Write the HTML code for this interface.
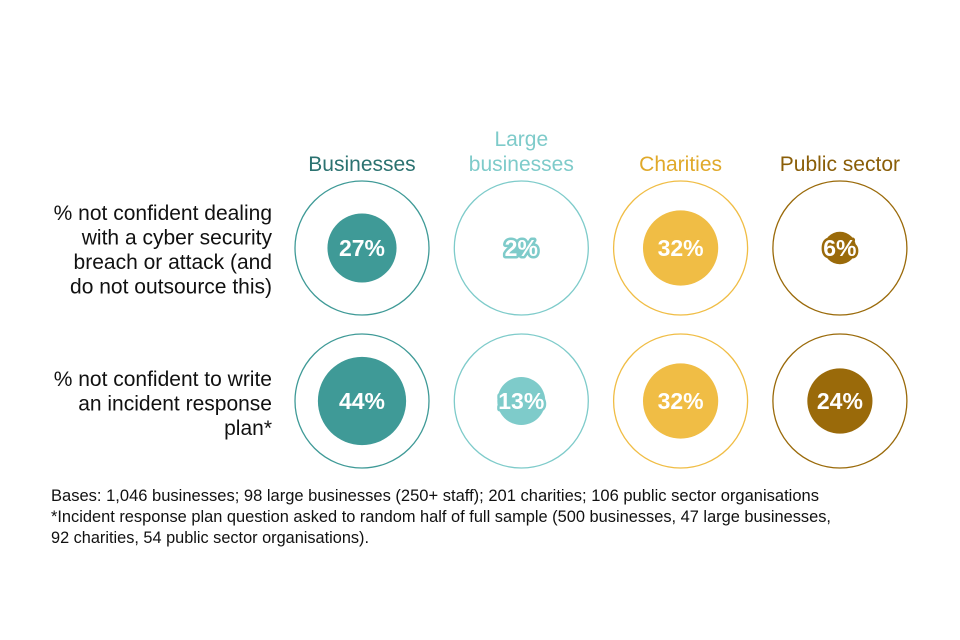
<!DOCTYPE html>
<html><head><meta charset="utf-8"><style>
body{margin:0;background:#fff;width:960px;height:640px;overflow:hidden;font-family:"Liberation Sans",sans-serif}
svg{display:block}
</style></head><body>
<svg width="960" height="640" id="chart">
<g font-size="21" fill="#111" text-anchor="end" font-family="Liberation Sans, sans-serif">
<text x="272" y="220"><tspan x="272">% not confident dealing</tspan><tspan x="272" dy="24.5">with a cyber security</tspan><tspan x="272" dy="24.5">breach or attack (and</tspan><tspan x="272" dy="24.5">do not outsource this)</tspan></text>
<text x="272" y="386"><tspan x="272">% not confident to write</tspan><tspan x="272" dy="24.5">an incident response</tspan><tspan x="272" dy="24.5">plan*</tspan></text>
</g>
<g font-size="16.5" fill="#111" font-family="Liberation Sans, sans-serif">
<text x="51" y="501" textLength="768" lengthAdjust="spacingAndGlyphs">Bases: 1,046 businesses; 98 large businesses (250+ staff); 201 charities; 106 public sector organisations</text>
<text x="51" y="522" textLength="780" lengthAdjust="spacingAndGlyphs">*Incident response plan question asked to random half of full sample (500 businesses, 47 large businesses,</text>
<text x="51" y="543" textLength="318" lengthAdjust="spacingAndGlyphs">92 charities, 54 public sector organisations).</text>
</g>
</svg>
<script>
const groups=["Businesses","Large businesses","Charities","Public sector"];
const breachValues=[27,2,32,6];
const planValues=[44,13,32,24];
const colors=["#3f9a97","#7ecbca","#f0bd45","#9a6a0a"];
const headColors=["#2b7270","#7ecbca","#e0a92a","#8a5e08"];
const svg=document.getElementById('chart');
const NS="http://www.w3.org/2000/svg";
const colX=i=>362+i*159.3;
const rows=[{y:248,vals:breachValues,name:'breach'},{y:401,vals:planValues,name:'plan'}];
const rad=v=>6.65*Math.sqrt(v);
function mk(t,a){const e=document.createElementNS(NS,t);for(const k in a)e.setAttribute(k,a[k]);svg.appendChild(e);return e;}
groups.forEach((g,i)=>{
  const lines=g==="Large businesses"?["Large","businesses"]:[g];
  lines.forEach((l,j)=>{
    const t=mk('text',{x:colX(i),y:171-(lines.length-1-j)*25,'text-anchor':'middle','font-size':21,fill:headColors[i]});
    t.textContent=l;
    
    
  });
  rows.forEach(r=>{
    const o=mk('circle',{cx:colX(i),cy:r.y,r:67,fill:'none',stroke:colors[i],'stroke-width':1.3});
    
    
    const v=r.vals[i];
    const c=mk('circle',{cx:colX(i),cy:r.y,r:rad(v),fill:colors[i]});
    
    
    const t=mk('text',{x:colX(i),y:r.y+8,'text-anchor':'middle','font-size':23,'font-weight':'bold',fill:'#fff',stroke:colors[i],'stroke-width':5,'paint-order':'stroke','stroke-linejoin':'round'});
    t.textContent=v+'%';
    
    
  });
});
</script>
</body></html>
